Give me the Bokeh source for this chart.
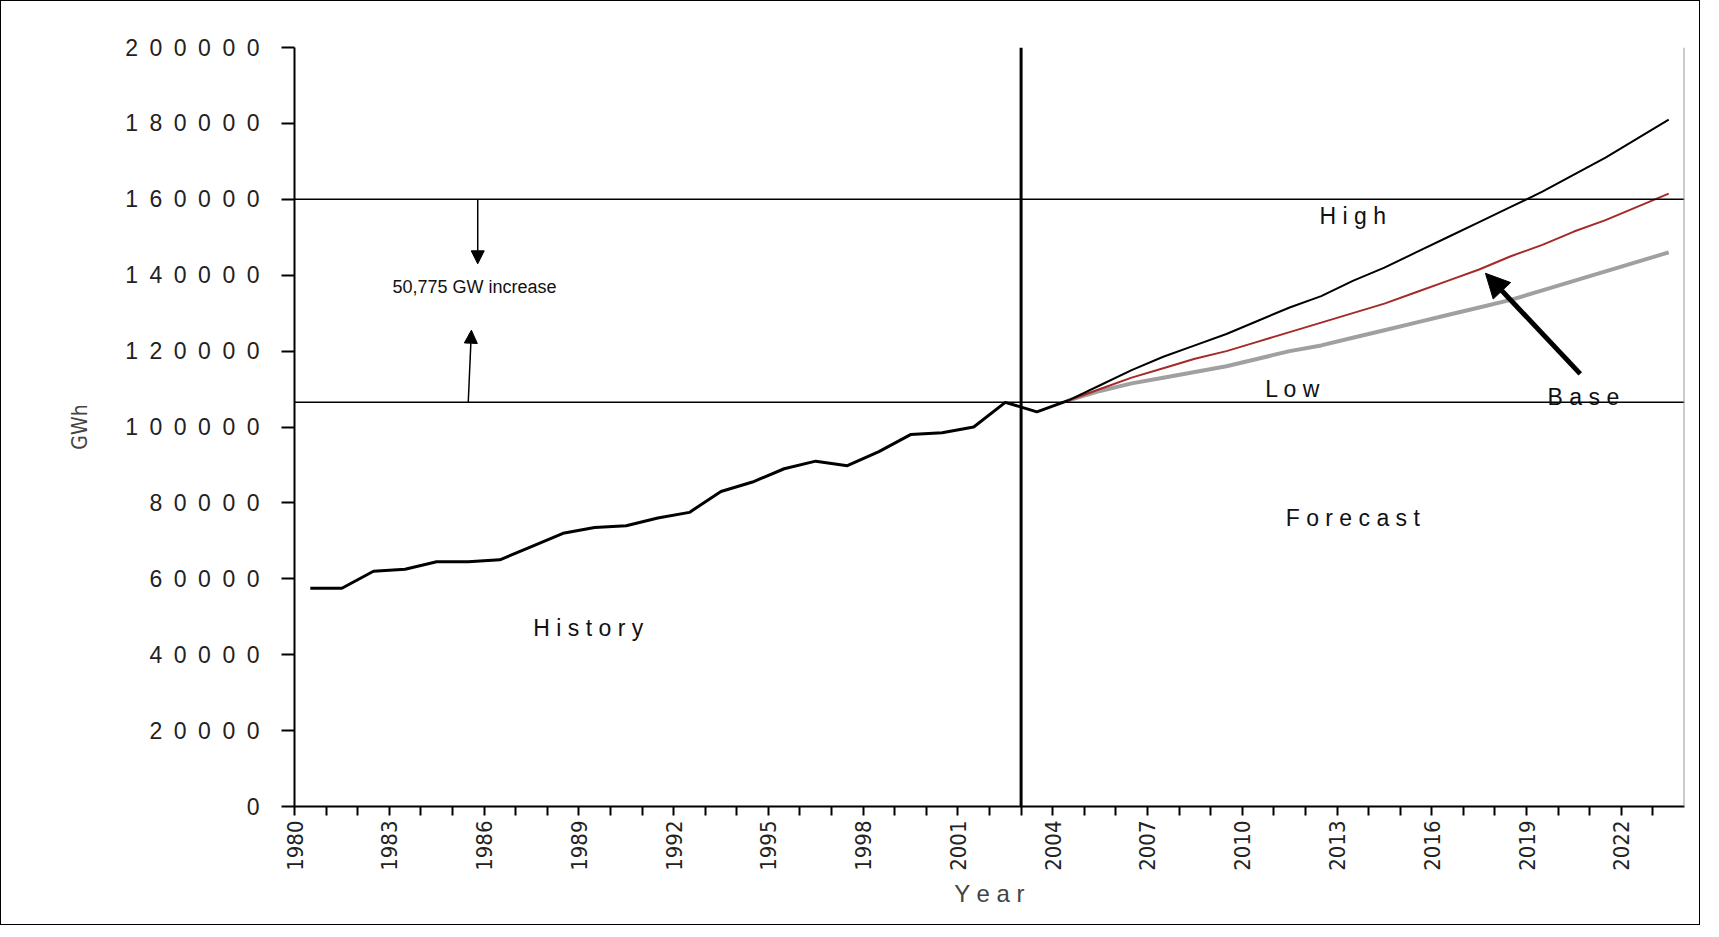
import numpy as np
from bokeh.plotting import figure
from bokeh.models import Span, Label, Arrow, NormalHead, FixedTicker
from bokeh.embed import file_html
from bokeh.resources import INLINE

# data
hist_years = list(range(1980, 2005))
hist_vals = [57500, 57500, 62000, 62500, 64500, 64500, 65000, 68500, 72000, 73500,
             74000, 76000, 77500, 83000, 85500, 89000, 91000, 89800, 93500, 98000,
             98500, 100000, 106500, 104000, 107000]
fc_years = list(range(2004, 2024))
high = [107000, 111000, 115000, 118500, 121500, 124500, 128000, 131500, 134500, 138500,
        142000, 146000, 150000, 154000, 158000, 162000, 166500, 171000, 176000, 181000]
base = [107000, 110000, 113000, 115500, 118000, 120000, 122500, 125000, 127500, 130000,
        132500, 135500, 138500, 141500, 145000, 148000, 151500, 154500, 158000, 161500]
low = [107000, 109500, 111500, 113000, 114500, 116000, 118000, 120000, 121500, 123500,
       125500, 127500, 129500, 131500, 133500, 136000, 138500, 141000, 143500, 146000]
y_ticks = list(range(0, 200001, 20000))
level_now = 106500
level_2023 = 160000

p = figure(width=1700, height=925, x_range=(1980, 2024), y_range=(0, 200000),
           output_backend="svg", toolbar_location=None,
           min_border_left=293, min_border_right=17, min_border_top=46, min_border_bottom=120)
p.grid.visible = False
p.outline_line_color = None
p.styles = {"border": "1px solid black"}

# points sit in the middle of each year slot
off = 0.5
p.line([y + off for y in fc_years], low, line_color="#a0a0a0", line_width=4)
p.line([y + off for y in fc_years], base, line_color="#a52a2a", line_width=2)
p.line([y + off for y in fc_years], high, line_color="black", line_width=2)
p.line([y + off for y in hist_years], hist_vals, line_color="black", line_width=3)

p.add_layout(Span(location=level_2023, dimension="width", line_color="black", line_width=1.5))
p.add_layout(Span(location=level_now, dimension="width", line_color="black", line_width=1.5))
p.add_layout(Span(location=2003, dimension="height", line_color="black", line_width=3))
p.add_layout(Span(location=2024, dimension="height", line_color="#999999", line_width=2))

# arrows
p.add_layout(Arrow(end=NormalHead(size=13, fill_color="black", line_color="black"),
                   x_start=1985.8, y_start=level_2023, x_end=1985.8, y_end=143000, line_width=1.5))
p.add_layout(Arrow(end=NormalHead(size=13, fill_color="black", line_color="black"),
                   x_start=1985.5, y_start=level_now, x_end=1985.6, y_end=125500, line_width=1.5))
p.add_layout(Arrow(end=NormalHead(size=24, fill_color="black", line_color="black"),
                   x_start=2020.7, y_start=114000, x_end=2017.7, y_end=140500, line_width=5))

txt = dict(text_font="Liberation Sans", text_align="center", text_baseline="middle", text_color="#111111")
p.add_layout(Label(x=1985.7, y=137000, text="50,775 GW increase", text_font_size="18px", **txt))
for x, y, t in [(2013.5, 155500, "H i g h"), (2011.6, 110000, "L o w"), (2020.8, 108000, "B a s e"),
                (2013.5, 76000, "F o r e c a s t"), (1989.3, 47000, "H i s t o r y")]:
    p.add_layout(Label(x=x, y=y, text=t, text_font_size="23px", **txt))

# axes
p.xaxis.ticker = FixedTicker(ticks=list(range(1980, 2024)))
p.xaxis.major_label_overrides = {y: (str(y) if (y - 1980) % 3 == 0 else "") for y in range(1980, 2024)}
p.xaxis.major_label_orientation = np.pi / 2
p.xaxis.major_label_text_font = "DejaVu Sans Condensed"
p.xaxis.major_label_text_font_size = "22px"
p.xaxis.axis_label = "Y e a r"
p.xaxis.axis_label_text_font = "Liberation Sans"
p.xaxis.axis_label_text_font_style = "normal"
p.xaxis.axis_label_text_font_size = "24px"
p.xaxis.axis_label_standoff = 6
p.xaxis.major_tick_in = 0
p.xaxis.major_tick_out = 9
p.xaxis.minor_tick_line_color = None

p.yaxis.ticker = FixedTicker(ticks=y_ticks)
p.yaxis.major_label_overrides = {v: "\u2002".join(str(v)) for v in y_ticks}
p.yaxis.major_label_text_font = "Liberation Sans"
p.yaxis.major_label_text_font_size = "23px"
p.yaxis.major_label_standoff = 22
p.yaxis.major_tick_in = 0
p.yaxis.major_tick_out = 13
p.yaxis.minor_tick_line_color = None
p.yaxis.axis_label = "GWh"
p.yaxis.axis_label_text_font = "DejaVu Sans Condensed"
p.yaxis.axis_label_text_font_style = "normal"
p.yaxis.axis_label_text_font_size = "21px"
p.yaxis.axis_label_standoff = 30
for ax in (p.xaxis, p.yaxis):
    ax.axis_line_width = 2
    ax.major_tick_line_width = 2
    ax.major_label_text_color = "#222222"

open("out.html", "w").write(file_html(p, INLINE))
